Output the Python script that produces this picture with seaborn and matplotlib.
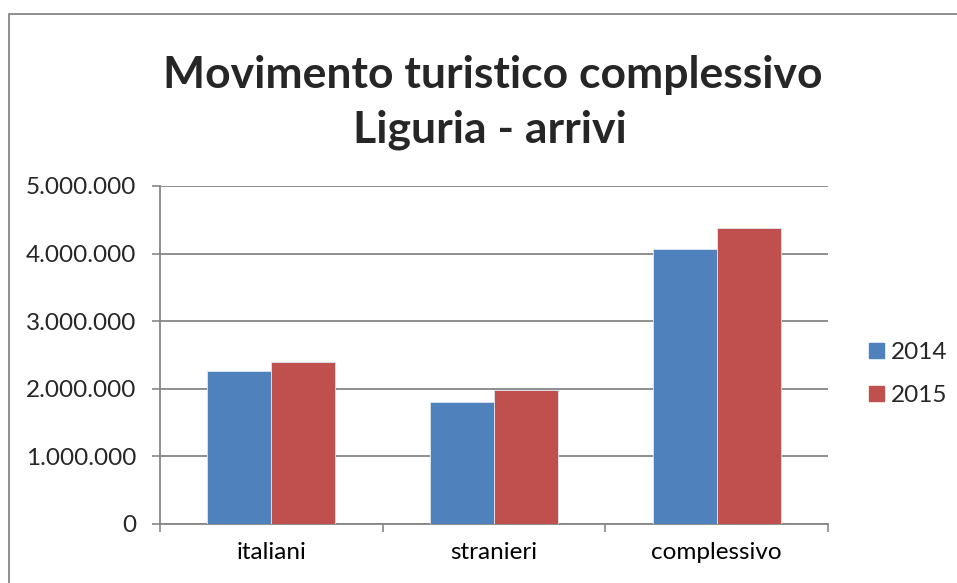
import matplotlib
matplotlib.use("Agg")
import matplotlib.pyplot as plt
import matplotlib.patches as mpatches
from matplotlib.ticker import FuncFormatter, FixedLocator, NullFormatter
import pandas as pd
import seaborn as sns

categorie = ['italiani', 'stranieri', 'complessivo']
anni = ['2014', '2015']
arrivi_2014 = [2256000, 1808000, 4064000]
arrivi_2015 = [2399000, 1978000, 4384000]
colori = ['#4F81BD', '#C0504D']

df = pd.DataFrame({
    'categoria': categorie * 2,
    'anno': [anni[0]] * 3 + [anni[1]] * 3,
    'arrivi': arrivi_2014 + arrivi_2015,
})

sns.set_theme(style='white')
plt.rcParams['font.family'] = ['Lato', 'DejaVu Sans']

fig = plt.figure(figsize=(9.57, 5.83), dpi=100)
ax = fig.add_axes([160 / 957, 1 - 524 / 583, (828 - 160) / 957, (524 - 186) / 583])

sns.barplot(data=df, x='categoria', y='arrivi', hue='anno', palette=colori,
            width=0.575, gap=0, ax=ax, legend=False, saturation=1, zorder=3,
            linewidth=0.6, edgecolor='#dfe6f0')

ax.set_ylim(0, 5000000)
ax.set_xlim(-0.5, 2.5)
ax.set_yticks([0, 1000000, 2000000, 3000000, 4000000, 5000000])
ax.yaxis.set_major_formatter(FuncFormatter(lambda v, p: f'{int(v):,}'.replace(',', '.')))
ax.grid(axis='y', color='#868686', linewidth=1.3, zorder=0)
ax.set_axisbelow(True)

ax.xaxis.set_major_locator(FixedLocator([-0.5, 0.5, 1.5, 2.5]))
ax.xaxis.set_major_formatter(NullFormatter())
ax.xaxis.set_minor_locator(FixedLocator([0, 1, 2]))
ax.set_xticklabels(categorie, minor=True)
ax.tick_params(axis='x', which='major', direction='out', length=6, width=1.2, color='#868686', bottom=True)
ax.tick_params(axis='x', which='minor', length=0, pad=13, labelsize=17.5, colors='black')
ax.tick_params(axis='y', direction='out', length=6, width=1.2, color='#868686', left=True,
               labelsize=17.5, pad=11)
ax.set_xlabel('')
ax.set_ylabel('')

for side in ['top', 'right']:
    ax.spines[side].set_visible(False)
for side in ['left', 'bottom']:
    ax.spines[side].set_color('#868686')
    ax.spines[side].set_linewidth(1.3)

fig.text(493 / 957, 1 - 75 / 583, 'Movimento turistico complessivo', ha='center', va='center',
         fontsize=32, fontweight='bold')
fig.text(490 / 957, 1 - 130 / 583, 'Liguria - arrivi', ha='center', va='center',
         fontsize=32, fontweight='bold')

handles = [mpatches.Patch(color=c, label=a) for c, a in zip(colori, anni)]
fig.legend(handles=handles, loc='center left', bbox_to_anchor=(869 / 957, 1 - 374 / 583),
           frameon=False, fontsize=17.5, handlelength=0.62, handleheight=0.58,
           handletextpad=0.3, labelspacing=0.9, borderpad=0, borderaxespad=0)

border = mpatches.Rectangle((9 / 957, -0.05), 1.2, 1 - 14 / 583 + 0.05, transform=fig.transFigure,
                            fill=False, edgecolor='#868686', linewidth=1.3)
fig.patches.append(border)

fig.savefig('out.png', dpi=100, facecolor='white')
